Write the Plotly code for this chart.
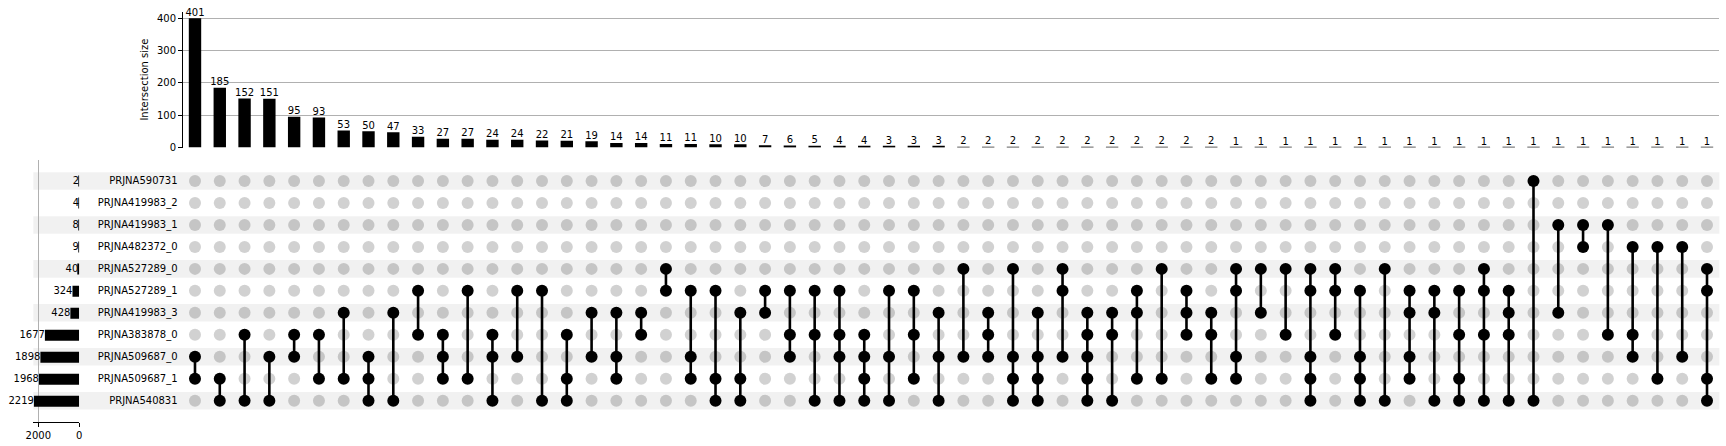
import plotly.graph_objects as go

W, H = 1726, 446

SETS = ["PRJNA590731", "PRJNA419983_2", "PRJNA419983_1", "PRJNA482372_0",
        "PRJNA527289_0", "PRJNA527289_1", "PRJNA419983_3", "PRJNA383878_0",
        "PRJNA509687_0", "PRJNA509687_1", "PRJNA540831"]
SET_SIZES = [2, 4, 8, 9, 40, 324, 428, 1677, 1898, 1968, 2219]

INTERSECTION_SIZES = [401, 185, 152, 151, 95, 93, 53, 50, 47, 33, 27, 27, 24, 24, 22, 21,
                      19, 14, 14, 11, 11, 10, 10, 7, 6, 5, 4, 4, 3, 3, 3,
                      2, 2, 2, 2, 2, 2, 2, 2, 2, 2, 2,
                      1, 1, 1, 1, 1, 1, 1, 1, 1, 1, 1, 1, 1, 1, 1, 1, 1, 1, 1, 1]

# membership of each intersection (row indices into SETS)
MEMBERS = [
    (8, 9), (9, 10), (7, 10), (8, 10), (7, 8), (7, 9), (6, 9), (8, 9, 10), (6, 10), (5, 7),
    (7, 8, 9), (5, 9), (7, 8, 10), (5, 8), (5, 10), (7, 9, 10), (6, 8), (6, 8, 9), (6, 7), (4, 5),
    (5, 8, 9), (5, 9, 10), (6, 9, 10), (5, 6), (5, 7, 8), (5, 7, 10), (5, 7, 8, 10), (7, 8, 9, 10),
    (5, 8, 10), (5, 7, 9), (6, 8, 10), (4, 8), (6, 7, 8), (4, 8, 9, 10), (6, 8, 9, 10), (4, 5, 8),
    (6, 7, 8, 9, 10), (6, 7, 10), (5, 6, 9), (4, 9), (5, 6, 7), (6, 7, 9), (4, 5, 8, 9), (4, 6),
    (4, 7), (4, 5, 8, 9, 10), (4, 5, 7), (5, 8, 9, 10), (4, 10), (5, 6, 8, 9), (5, 6, 10),
    (5, 7, 9, 10), (4, 5, 7, 10), (5, 6, 7, 10), (0, 10), (2, 6), (2, 3), (2, 7), (3, 7, 8),
    (3, 9), (3, 8), (4, 5, 9, 10),
]

Y_TICKS = [0, 100, 200, 300, 400]
TOTAL_TICKS = [0, 2000]

ncol = len(INTERSECTION_SIZES)
nrow = len(SETS)
cols = list(range(ncol))

FONT = "DejaVu Sans"
TXT = "#000000"
GRID = "#b0b0b0"
FS = 10

fig = go.Figure()

# intersection bars
fig.add_trace(go.Bar(x=cols, y=INTERSECTION_SIZES, width=0.5, marker_color="black",
                     marker_line_width=0, xaxis="x", yaxis="y", hoverinfo="skip"))
fig.add_trace(go.Scatter(x=cols, y=INTERSECTION_SIZES, mode="text",
                         text=[str(v) for v in INTERSECTION_SIZES], textposition="top center",
                         textfont=dict(size=FS, color=TXT, family=FONT),
                         xaxis="x", yaxis="y", cliponaxis=False, hoverinfo="skip"))

# matrix
gx, gy, fx, fy, lx, ly = [], [], [], [], [], []
for c, mem in enumerate(MEMBERS):
    for r in range(nrow):
        if r in mem:
            fx.append(c); fy.append(r)
        else:
            gx.append(c); gy.append(r)
    lx += [c, c, None]
    ly += [min(mem), max(mem), None]

fig.add_trace(go.Scatter(x=gx, y=gy, mode="markers",
                         marker=dict(size=12, color="rgba(0,0,0,0.18)", line_width=0),
                         xaxis="x", yaxis="y2", hoverinfo="skip"))
fig.add_trace(go.Scatter(x=lx, y=ly, mode="lines", line=dict(color="black", width=2.6),
                         xaxis="x", yaxis="y2", hoverinfo="skip"))
fig.add_trace(go.Scatter(x=fx, y=fy, mode="markers",
                         marker=dict(size=12, color="black", line_width=0),
                         xaxis="x", yaxis="y2", hoverinfo="skip"))

# set totals
rows = list(range(nrow))
fig.add_trace(go.Bar(x=SET_SIZES, y=rows, orientation="h", width=0.5, marker_color="black",
                     marker_line_width=0, xaxis="x2", yaxis="y3", hoverinfo="skip"))
fig.add_trace(go.Scatter(x=SET_SIZES, y=rows, mode="text", text=[str(v) for v in SET_SIZES],
                         textposition="middle left",
                         textfont=dict(size=FS, color=TXT, family=FONT),
                         xaxis="x2", yaxis="y3", cliponaxis=False, hoverinfo="skip"))

# row shading
shapes = []
for r in range(0, nrow, 2):
    shapes.append(dict(type="rect", xref="paper", yref="y2", x0=33.3 / W, x1=1719.4 / W,
                       y0=r - 0.4, y1=r + 0.4, fillcolor="rgba(0,0,0,0.055)",
                       line_width=0, layer="below"))

fig.update_layout(
    width=W, height=H, autosize=False,
    margin=dict(l=0, r=0, t=0, b=0, pad=0, autoexpand=False),
    paper_bgcolor="white", plot_bgcolor="rgba(0,0,0,0)",
    showlegend=False, font=dict(family=FONT, size=FS, color=TXT),
    shapes=shapes,
    xaxis=dict(domain=[182.6 / W, 1719.4 / W], range=[-0.5, ncol - 0.5], anchor="y",
               showticklabels=False, showgrid=False, zeroline=False, showline=False, ticks="",
               automargin=False),
    yaxis=dict(domain=[1 - 147.5 / H, 1 - 11.7 / H], range=[0, 421.05], anchor="x",
               tickvals=Y_TICKS, ticks="outside", ticklen=3.5, tickwidth=1, tickcolor="black",
               showline=True, linecolor="black", linewidth=1,
               showgrid=True, gridcolor=GRID, gridwidth=1,
               zeroline=True, zerolinecolor="rgba(0,0,0,0)",
               tickfont=dict(size=FS, color=TXT), automargin=False),
    yaxis2=dict(domain=[1 - 411.7 / H, 1 - 170 / H], range=[nrow - 0.5, -0.5], anchor="x",
                tickvals=rows, ticktext=SETS, ticks="", showgrid=False, zeroline=False,
                showline=False, ticklabelstandoff=4, tickfont=dict(size=FS, color=TXT),
                automargin=False),
    xaxis2=dict(domain=[33.3 / W, 79.3 / W], range=[2246, -10], anchor="y3",
                tickvals=TOTAL_TICKS, ticks="outside", ticklen=3.5, tickwidth=1,
                tickcolor="black", showline=True, linecolor="black", linewidth=1,
                showgrid=True, gridcolor=GRID, gridwidth=1,
                zeroline=True, zerolinecolor="rgba(0,0,0,0)",
                tickfont=dict(size=FS, color=TXT), automargin=False),
    yaxis3=dict(domain=[1 - 422.3 / H, 1 - 160 / H], range=[10.956, -0.955], anchor="x2",
                showticklabels=False, showgrid=False, zeroline=False, showline=False, ticks="",
                automargin=False),
    annotations=[dict(text="Intersection size", xref="paper", yref="paper",
                      x=145 / W, y=1 - 79.6 / H, textangle=-90, showarrow=False,
                      xanchor="center", yanchor="middle", font=dict(size=FS, color=TXT))],
)

fig.write_html("out.html", config={"responsive": False, "displayModeBar": False},
               post_script="document.body.style.margin='0';document.body.style.overflow='hidden';")
